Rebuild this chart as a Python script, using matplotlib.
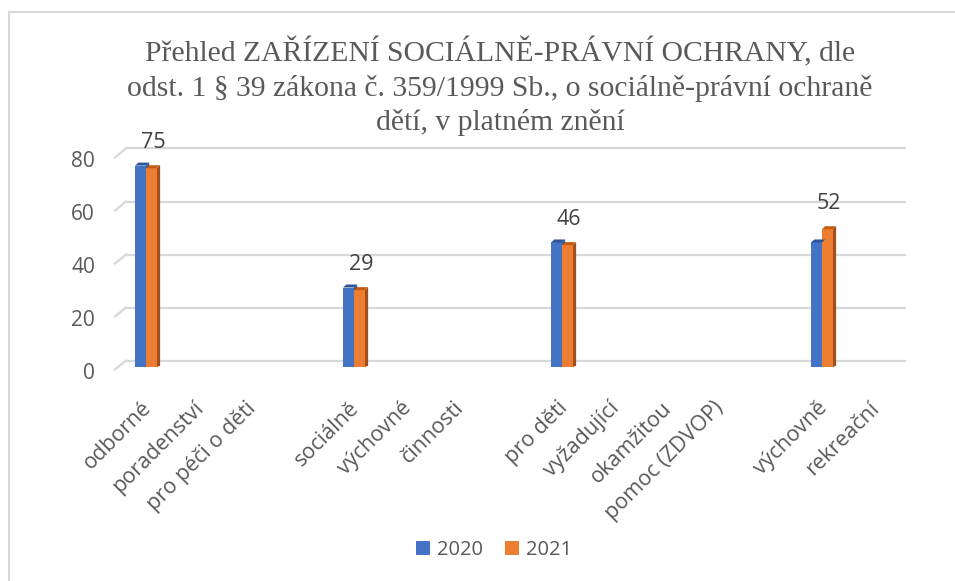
import numpy as np
import matplotlib
matplotlib.use("Agg")
import matplotlib.pyplot as plt
from matplotlib.patches import Polygon, Patch
from matplotlib.lines import Line2D
from matplotlib.transforms import ScaledTranslation

# ---------------- data ----------------
categories = ["odborné", "poradenství", "pro péči o děti", "",
              "sociálně", "výchovné", "činnosti", "",
              "pro děti", "vyžadující", "okamžitou", "pomoc (ZDVOP)", "",
              "výchovně", "rekreační"]
values_2020 = [76, None, None, None, 30, None, None, None, 47, None, None, None, None, 47, None]
values_2021 = [75, None, None, None, 29, None, None, None, 46, None, None, None, None, 52, None]
series_names = ["2020", "2021"]
yticks = [0, 20, 40, 60, 80]
title_lines = ["Přehled ZAŘÍZENÍ SOCIÁLNĚ-PRÁVNÍ OCHRANY, dle",
               "odst. 1 § 39 zákona č. 359/1999 Sb., o sociálně-právní ochraně",
               "dětí, v platném znění"]

# ---------------- style ----------------
W, H, DPI = 955, 581, 100
blue, orange = "#4472C4", "#ED7D31"
blue_top, orange_top, orange_side = "#2F5597", "#C55A11", "#A0501C"
grid_c = "#D9D9D9"
txt = "#595959"
font = "Open Sans"

fig = plt.figure(figsize=(W / DPI, H / DPI), dpi=DPI)
fig.patch.set_facecolor("white")

# axes: x from 120px to 900px, y value 0 at 367px, 80 at 155px
ax_l, ax_r, ax_b, ax_t = 120, 900, 367, 155
ax = fig.add_axes([ax_l / W, 1 - ax_b / H, (ax_r - ax_l) / W, (ax_b - ax_t) / H])
ax.set_facecolor("none")
n = len(categories)
x = np.arange(n)
ax.set_xlim(-0.5, n - 0.5)
ax.set_ylim(0, 80)
for s in ax.spines.values():
    s.set_visible(False)

px_x = (ax_r - ax_l) / n          # pixels per x unit
px_y = (ax_b - ax_t) / 80.0       # pixels per y unit

# back-wall gridlines (3D look) with small floor stubs
gdx, gdy = 6, 6.5
for v in yticks:
    yb = ax_b - v * px_y - gdy
    fig.add_artist(Line2D([(ax_l + gdx) / W, (ax_r + gdx - 1) / W], [1 - yb / H, 1 - yb / H],
                          color=grid_c, lw=1.6, zorder=0))
    fig.add_artist(Line2D([(ax_l - 5) / W, (ax_l + gdx) / W], [1 - (yb + 9) / H, 1 - yb / H],
                          color=grid_c, lw=1.6, zorder=0))

bw = 0.21
d3x = 3.2 / px_x
d3y = 3.0 / px_y


def draw_bars(vals, offset, face, top, side):
    xs = [xi + offset for xi, v in zip(x, vals) if v is not None]
    hs = [v for v in vals if v is not None]
    ax.bar(xs, hs, bw, color=face, zorder=3, linewidth=0)
    for xc, h in zip(xs, hs):
        l, r = xc - bw / 2, xc + bw / 2
        ax.add_patch(Polygon([[l, h], [r, h], [r + d3x, h + d3y], [l + d3x, h + d3y]],
                             closed=True, facecolor=top, edgecolor="none", zorder=4))
        ax.add_patch(Polygon([[r, 0], [r + d3x, d3y * 0.4], [r + d3x, h + d3y], [r, h]],
                             closed=True, facecolor=side, edgecolor="none", zorder=2.5))
    return xs, hs


draw_bars(values_2021, bw / 2, orange, orange_top, orange_side)
draw_bars(values_2020, -bw / 2, blue, blue_top, blue_top)

# data labels for 2021
for xi, v in zip(x, values_2021):
    if v is not None:
        ax.annotate(str(v), (xi + bw / 2 + d3x / 2, v + d3y), xytext=(0, 9),
                    textcoords="offset points", ha="center", va="bottom",
                    fontsize=15.5, color="#404040", family=font, zorder=5)

# y axis labels
ax.set_yticks(yticks)
ax.set_yticklabels([str(t) for t in yticks], fontsize=15, color=txt, family=font)
ax.tick_params(axis="y", length=0, pad=18)
off = ScaledTranslation(0, -4 / DPI, fig.dpi_scale_trans)
for lbl in ax.get_yticklabels():
    lbl.set_transform(lbl.get_transform() + off)

# x axis labels
ax.set_xticks(x)
ax.set_xticklabels(categories, rotation=45, ha="right", va="top", rotation_mode="anchor",
                   fontsize=15.5, color=txt, family=font)
ax.tick_params(axis="x", length=0, pad=22)
offx = ScaledTranslation(-5 / DPI, 0, fig.dpi_scale_trans)
for lbl in ax.get_xticklabels():
    lbl.set_transform(lbl.get_transform() + offx)

# title (three centred lines)
for line, yc in zip(title_lines, [52, 88, 122]):
    fig.text(500 / W, 1 - yc / H, line, ha="center", va="center", fontsize=21.3,
             family="Liberation Serif", color=txt)

# legend
handles = [Patch(facecolor=blue, edgecolor="none"), Patch(facecolor=orange, edgecolor="none")]
leg = fig.legend(handles, series_names, loc="center", bbox_to_anchor=(494 / W, 1 - 550 / H),
                 ncol=2, frameon=False, handlelength=0.7, handleheight=0.7,
                 handletextpad=0.35, columnspacing=1.1,
                 prop={"family": font, "size": 14.5})
for t in leg.get_texts():
    t.set_color(txt)

# chart border (partially cropped in the reference)
fig.add_artist(Line2D([9 / W, 9 / W], [0, 1 - 12 / H], color="#D9D9D9", lw=1.5))
fig.add_artist(Line2D([9 / W, 1], [1 - 12 / H, 1 - 12 / H], color="#D9D9D9", lw=1.5))

fig.savefig("out.png", dpi=DPI, facecolor="white")
